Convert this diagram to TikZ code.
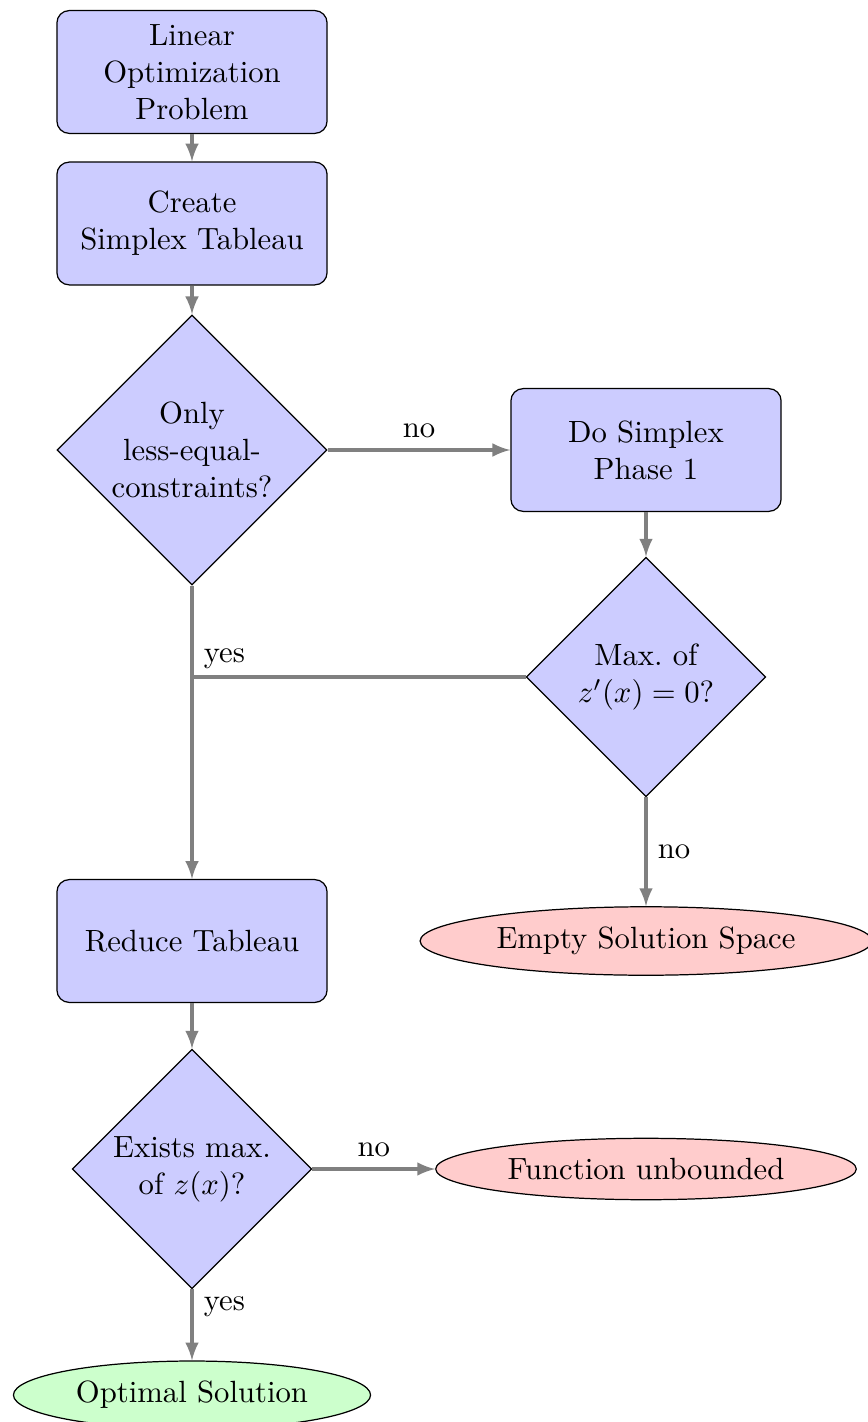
\documentclass[tikz,border=0pt]{standalone}
\usetikzlibrary{shapes.geometric,arrows,calc}
\begin{document}
\begin{tikzpicture}[x=0.3257pt,y=-0.3257pt,
  blockbox/.style={rectangle, draw, fill=blue!20, align=center, rounded corners=4pt,
    minimum width=88pt, minimum height=40pt, inner sep=3.33pt},
  decisionbox/.style={diamond, draw, fill=blue!20, align=center, inner sep=0pt, aspect=1},
  cloudbox/.style={ellipse, draw, minimum height=2em},
  conn/.style={draw, -latex, gray, line width=1pt},
  plainconn/.style={draw, gray, line width=1pt},
  lbl/.style={text=black}]
\useasboundingbox (0,0) rectangle (867,1422);
\node[blockbox] (b1) at (192,72) {Linear\\Optimization\\Problem};
\node[blockbox] (b2) at (192,223.5) {Create\\Simplex Tableau};
\node[decisionbox, minimum width=88pt, minimum height=88pt] (d1) at (192,450) {Only\\less-equal-\\constraints?};
\node[blockbox] (b3) at (646,450) {Do Simplex\\Phase 1};
\node[decisionbox, minimum width=78pt, minimum height=78pt] (d2) at (646,677) {Max.\ of\\$z'(x)=0$?};
\node[cloudbox, fill=red!20] (e1) at (646,941) {Empty Solution Space};
\node[blockbox] (b4) at (192,941) {Reduce Tableau};
\node[decisionbox, minimum width=78pt, minimum height=78pt] (d3) at (192,1169) {Exists max.\\of $z(x)$?};
\node[cloudbox, fill=red!20] (e2) at (646,1169) {Function unbounded};
\node[cloudbox, fill=green!20] (e3) at (192,1395) {Optimal Solution};
\coordinate (j) at (d1 |- d2);
\path[conn] (b1) -- (b2);
\path[conn] (b2) -- (d1);
\path[conn] (d1) -- node[lbl, above] (l1) {no} (b3);
\path[conn] (d1) -- node[lbl, right, near start] (l2) {yes} (b4);
\path[conn] (b3) -- (d2);
\path[plainconn] (d2) -- (j);
\path[conn] (d2) -- node[lbl, right] (l3) {no} (e1);
\path[conn] (b4) -- (d3);
\path[conn] (d3) -- node[lbl, above] (l4) {no} (e2);
\path[conn] (d3) -- node[lbl, right, near start] (l5) {yes} (e3);
\end{tikzpicture}
\end{document}
